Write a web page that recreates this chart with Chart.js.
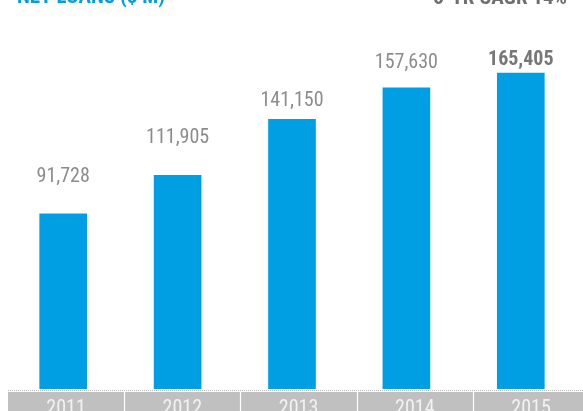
<!DOCTYPE html>
<html>
<head>
<meta charset="utf-8">
<script src="https://cdn.jsdelivr.net/npm/chart.js@4.4.1/dist/chart.umd.min.js"></script>
<style>
  html, body { margin: 0; padding: 0; background: #ffffff; }
  #wrap { position: relative; width: 583px; height: 411px; }
</style>
</head>
<body>
<div id="wrap"><canvas id="c" width="583" height="411"></canvas></div>
<script>
const years = ['2011', '2012', '2013', '2014', '2015'];
const netLoans = [91728, 111905, 141150, 157630, 165405];
const titleText = 'NET LOANS ($ M)';
const cagrText = '5-YR CAGR 14%';

const FONT = "'Liberation Sans Narrow', 'Roboto Condensed', 'Liberation Sans', sans-serif";
const BLUE = '#009fe3';

// space (px) between each bar top and its value label baseline
const LABEL_GAP = [32, 32, 13, 20, 8];

// year band cells are a touch wider than the bar categories
function bandCells(chart) {
  const x = chart.scales.x;
  const step = (x.getPixelForValue(1) - x.getPixelForValue(0)) * 1.016;
  const left = 8;
  return years.map((_, i) => ({ start: left + i * step, mid: left + (i + 0.5) * step }));
}

const decor = {
  id: 'decor',
  beforeDraw(chart) {
    const ctx = chart.ctx;
    const area = chart.chartArea;
    const cells = bandCells(chart);
    ctx.save();
    // grey year band
    ctx.fillStyle = '#c0c0c0';
    ctx.fillRect(8, area.bottom + 3, chart.width - 8, chart.height - area.bottom - 3);
    // white separators between cells
    ctx.strokeStyle = '#ffffff';
    ctx.lineWidth = 1.2;
    for (let i = 1; i < cells.length; i++) {
      const px = Math.round(cells[i].start) + 0.5;
      ctx.beginPath();
      ctx.moveTo(px, area.bottom + 3);
      ctx.lineTo(px, chart.height);
      ctx.stroke();
    }
    // dotted baseline
    ctx.strokeStyle = '#b8b8b8';
    ctx.lineWidth = 1;
    ctx.setLineDash([1, 1]);
    ctx.beginPath();
    ctx.moveTo(8, area.bottom + 1.5);
    ctx.lineTo(chart.width, area.bottom + 1.5);
    ctx.stroke();
    ctx.restore();
  },
  afterDraw(chart) {
    const ctx = chart.ctx;
    const meta = chart.getDatasetMeta(0);
    ctx.save();
    ctx.textAlign = 'center';
    ctx.textBaseline = 'alphabetic';
    meta.data.forEach((bar, i) => {
      const last = i === netLoans.length - 1;
      ctx.font = (last ? 'bold ' : '') + '20px ' + FONT;
      ctx.fillStyle = last ? '#777777' : '#8c8c8c';
      ctx.fillText(netLoans[i].toLocaleString('en-US'), bar.x, bar.y - LABEL_GAP[i]);
    });
    // year labels in the band
    const cells = bandCells(chart);
    ctx.font = '20px ' + FONT;
    ctx.fillStyle = '#f2f2f2';
    years.forEach((y, i) => {
      ctx.fillText(y, cells[i].mid, chart.height + 3);
    });
    // headings
    ctx.font = 'bold 21px ' + FONT;
    ctx.textAlign = 'left';
    ctx.fillStyle = BLUE;
    ctx.fillText(titleText, 17, 3);
    ctx.textAlign = 'right';
    ctx.fillStyle = '#6f6f6f';
    ctx.fillText(cagrText, 567, 4);
    ctx.restore();
  }
};

new Chart(document.getElementById('c'), {
  type: 'bar',
  data: {
    labels: years,
    datasets: [{
      data: netLoans,
      backgroundColor: BLUE,
      barThickness: 47
    }]
  },
  options: {
    responsive: false,
    animation: false,
    layout: { padding: { top: 7, left: 6, right: 5, bottom: 0 } },
    plugins: { legend: { display: false }, tooltip: { enabled: false } },
    scales: {
      x: {
        grid: { display: false },
        border: { display: false },
        ticks: { display: false },
        afterFit(scale) { scale.height = 22; }
      },
      y: {
        display: false,
        min: 0,
        max: 200000
      }
    }
  },
  plugins: [decor]
});
</script>
</body>
</html>
